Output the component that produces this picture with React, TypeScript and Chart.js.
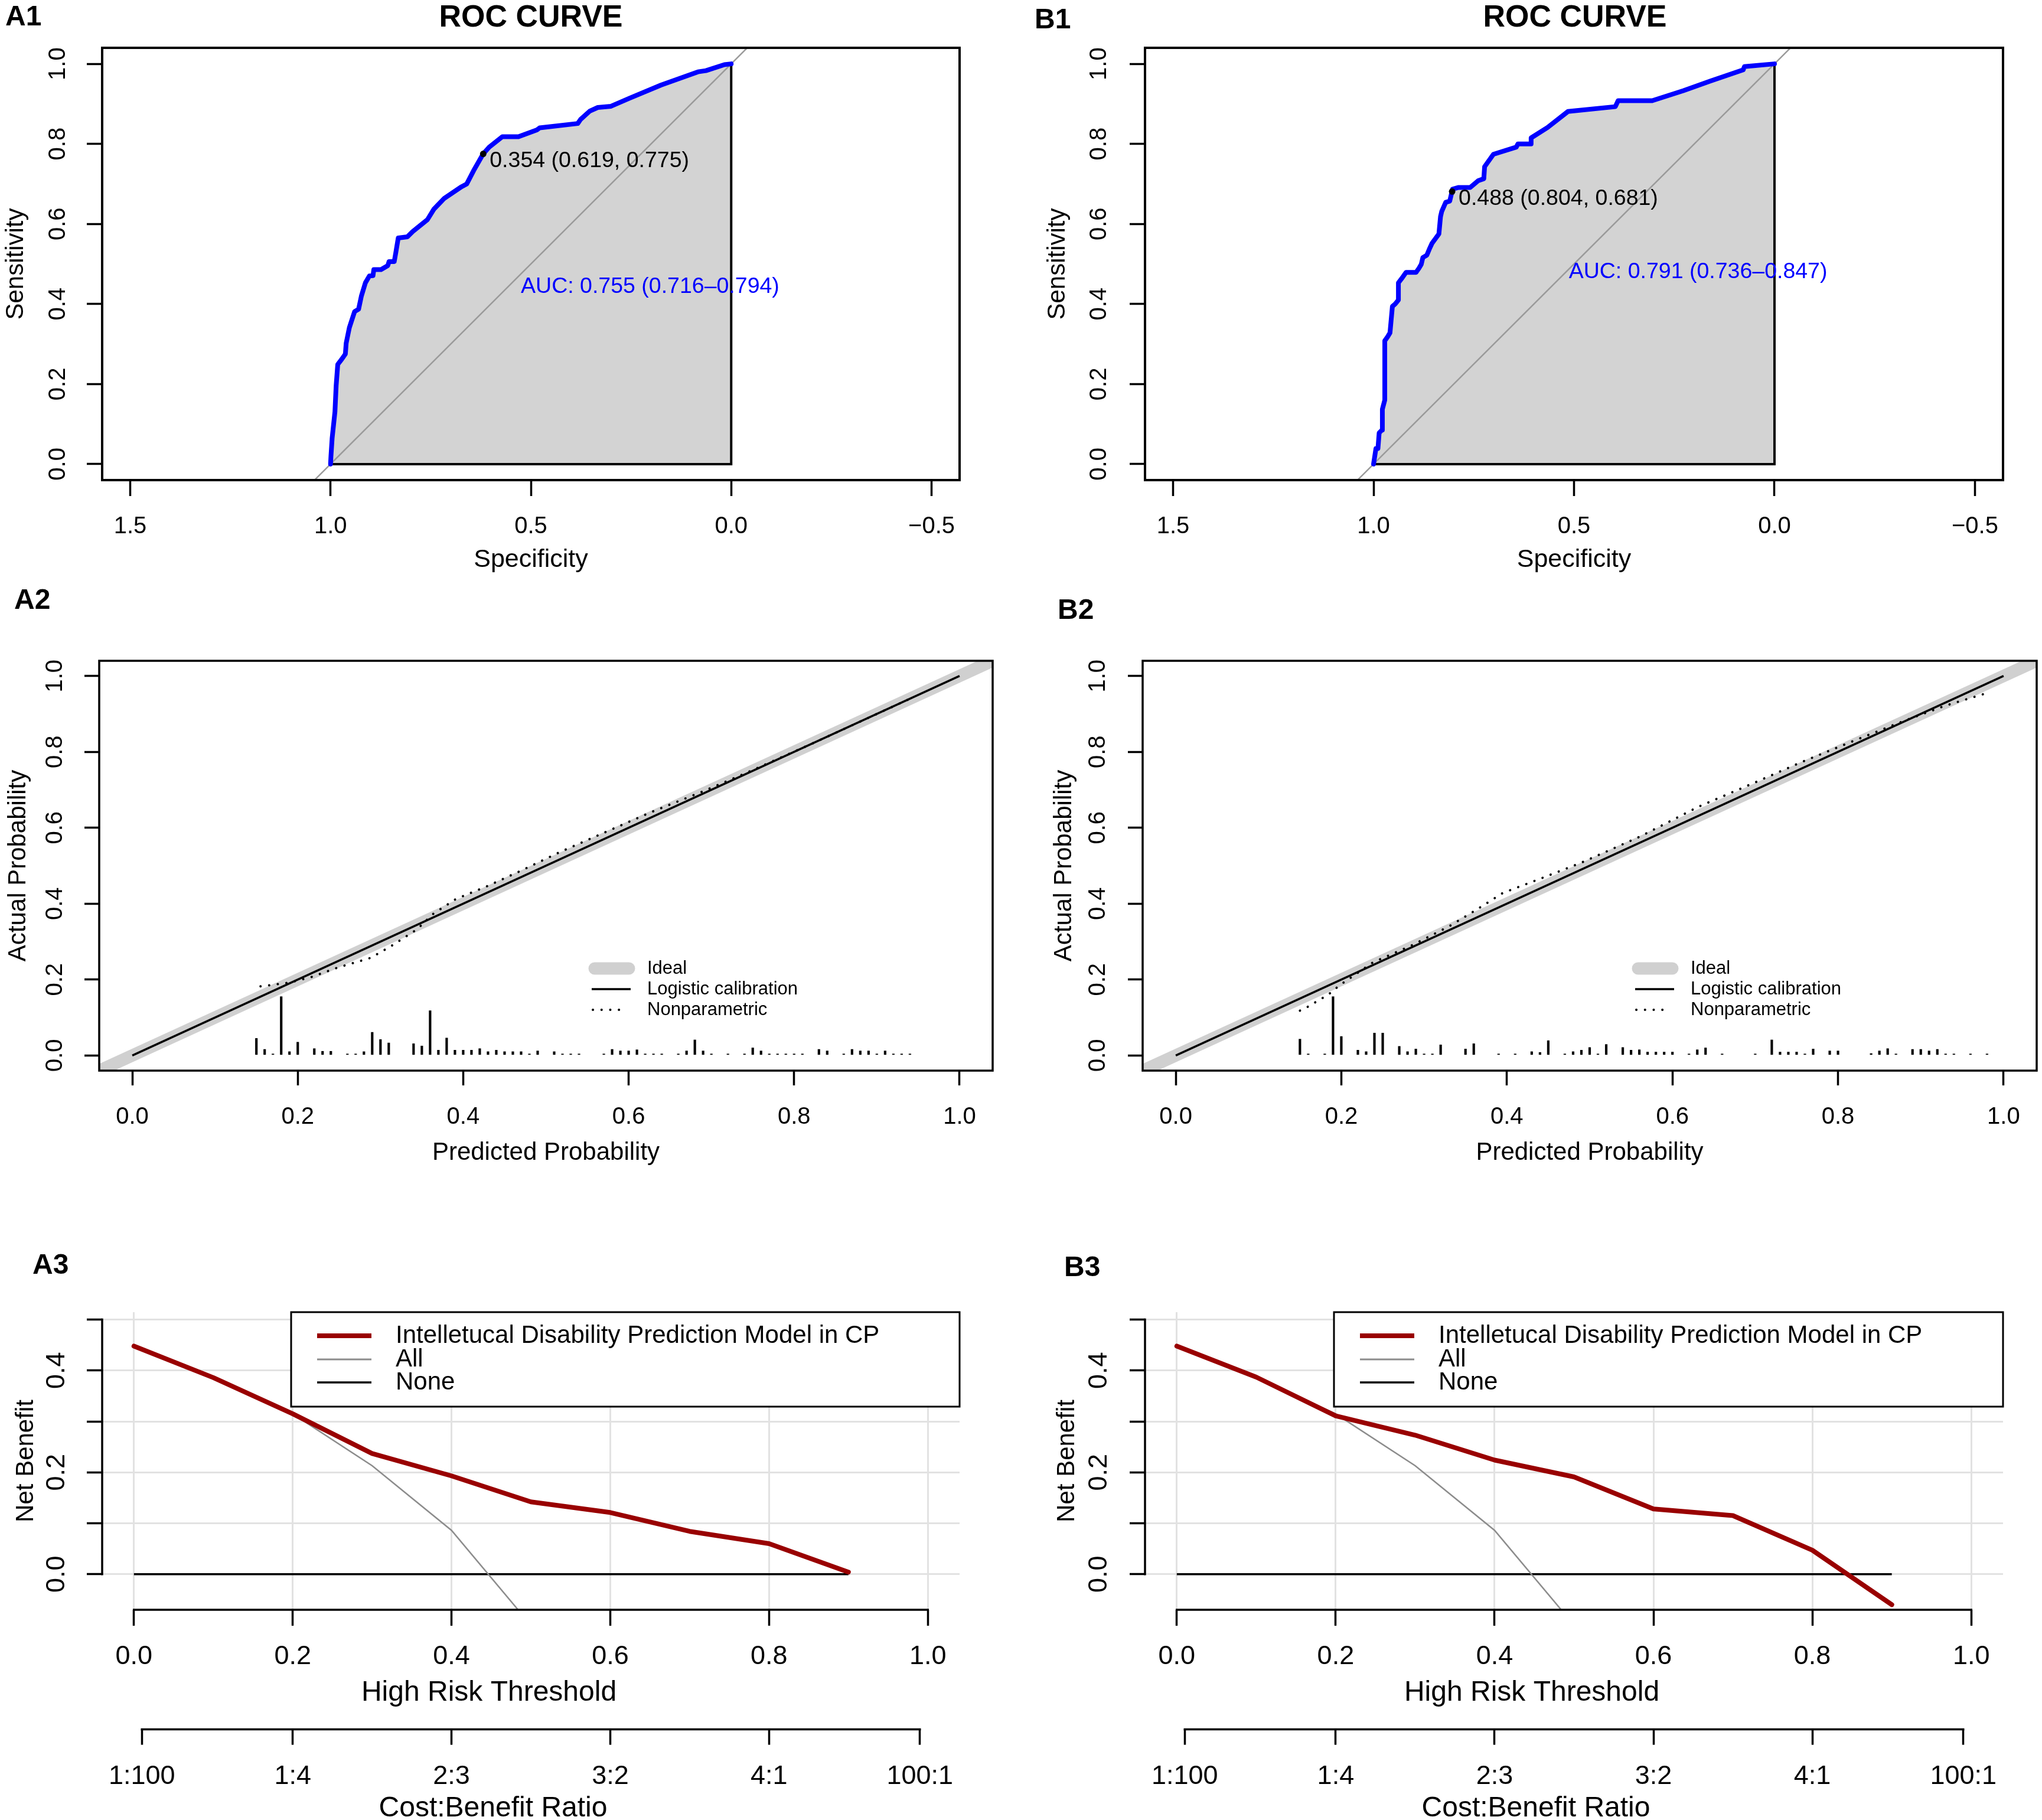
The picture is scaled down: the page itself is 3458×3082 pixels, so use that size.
import React, { useEffect, useRef } from "react";
import { Chart, registerables } from "chart.js";

Chart.register(...registerables);

const FONT = '"Liberation Sans", Arial, Helvetica, sans-serif';
const BLUE = "#0000FF";
const FILL_GREY = "#D3D3D3";
const IDEAL_GREY = "#D0D0D0";
const DARK_RED = "#990000";
const ALL_GREY = "#8C8C8C";
const GRID_GREY = "#E2E2E2";

// ---------- ROC curves: specificity / sensitivity ----------
const rocSpecA = [1.0, 0.999, 0.996, 0.989, 0.986, 0.982, 0.972, 0.963, 0.961, 0.953, 0.94, 0.93, 0.923, 0.913, 0.903, 0.894, 0.892, 0.874, 0.857, 0.854, 0.841, 0.837, 0.831, 0.808, 0.795, 0.758, 0.742, 0.716, 0.673, 0.66, 0.643, 0.619, 0.604, 0.571, 0.531, 0.485, 0.478, 0.383, 0.376, 0.353, 0.333, 0.3, 0.254, 0.175, 0.083, 0.063, 0.017, 0.0];
const rocSensA = [0.0, 0.019, 0.065, 0.131, 0.196, 0.249, 0.262, 0.275, 0.302, 0.341, 0.381, 0.387, 0.42, 0.453, 0.47, 0.471, 0.486, 0.486, 0.496, 0.506, 0.506, 0.529, 0.565, 0.568, 0.581, 0.611, 0.637, 0.664, 0.693, 0.7, 0.733, 0.775, 0.792, 0.818, 0.818, 0.835, 0.84, 0.851, 0.861, 0.882, 0.891, 0.894, 0.914, 0.947, 0.98, 0.983, 0.998, 1.0];
const rocSpecB = [1.0, 0.994, 0.989, 0.986, 0.979, 0.978, 0.972, 0.972, 0.965, 0.959, 0.953, 0.946, 0.938, 0.938, 0.928, 0.919, 0.894, 0.887, 0.881, 0.877, 0.867, 0.86, 0.854, 0.837, 0.833, 0.83, 0.82, 0.81, 0.806, 0.804, 0.803, 0.789, 0.759, 0.739, 0.725, 0.723, 0.701, 0.644, 0.64, 0.607, 0.607, 0.566, 0.515, 0.397, 0.39, 0.305, 0.227, 0.16, 0.078, 0.075, 0.0];
const rocSensB = [0.0, 0.039, 0.039, 0.078, 0.085, 0.137, 0.16, 0.308, 0.318, 0.328, 0.394, 0.4, 0.41, 0.453, 0.466, 0.479, 0.479, 0.489, 0.499, 0.516, 0.522, 0.539, 0.552, 0.575, 0.618, 0.631, 0.654, 0.657, 0.674, 0.681, 0.687, 0.691, 0.691, 0.708, 0.713, 0.743, 0.774, 0.792, 0.8, 0.8, 0.815, 0.841, 0.881, 0.893, 0.908, 0.908, 0.933, 0.957, 0.985, 0.993, 1.0];

// best cut-off [specificity, sensitivity] and its threshold
const bestA = [0.619, 0.775];
const bestB = [0.804, 0.681];
const cutA = 0.354;
const cutB = 0.488;
// AUC with 95% CI and where its label sits (specificity, sensitivity)
const aucA = [0.755, 0.716, 0.794];
const aucB = [0.791, 0.736, 0.847];
const aucPosA = [0.525, 0.443];
const aucPosB = [0.513, 0.48];

// auc polygon edges and chance line
const frameSpec = [1, 0, 0];
const frameSens = [0, 0, 1];
const chanceSpec = [1.1, -0.1];
const chanceSens = [-0.1, 1.1];

const rocXTicks = [1.5, 1.0, 0.5, 0.0, -0.5];
const unitTicks = [0, 0.2, 0.4, 0.6, 0.8, 1.0];

// ---------- Calibration ----------
const idealXY = [-0.1, 1.1];
const logitX = [0, 1];
const logitY = [0, 1];
const npAx = [0.155, 0.19, 0.217, 0.249, 0.288, 0.312, 0.344, 0.363, 0.391, 0.43, 0.47, 0.517, 0.564, 0.627, 0.69, 0.75, 0.82, 0.88, 0.94];
const npAy = [0.182, 0.192, 0.207, 0.232, 0.257, 0.287, 0.332, 0.372, 0.412, 0.447, 0.487, 0.536, 0.581, 0.641, 0.696, 0.752, 0.82, 0.88, 0.94];
const npBx = [0.15, 0.163, 0.172, 0.183, 0.198, 0.238, 0.285, 0.33, 0.364, 0.395, 0.443, 0.49, 0.561, 0.631, 0.694, 0.757, 0.82, 0.88, 0.93, 0.98];
const npBy = [0.118, 0.132, 0.145, 0.158, 0.185, 0.245, 0.29, 0.34, 0.385, 0.428, 0.468, 0.508, 0.577, 0.655, 0.714, 0.774, 0.83, 0.882, 0.922, 0.955];

// spike histogram of predicted probabilities
const spikeAx = [0.15, 0.16, 0.17, 0.18, 0.19, 0.2, 0.22, 0.23, 0.24, 0.26, 0.27, 0.28, 0.29, 0.3, 0.31, 0.34, 0.35, 0.36, 0.37, 0.38, 0.39, 0.4, 0.41, 0.42, 0.43, 0.44, 0.45, 0.46, 0.47, 0.48, 0.49, 0.51, 0.52, 0.53, 0.54, 0.57, 0.58, 0.59, 0.6, 0.61, 0.62, 0.63, 0.64, 0.66, 0.67, 0.68, 0.69, 0.7, 0.72, 0.74, 0.75, 0.76, 0.77, 0.78, 0.79, 0.8, 0.81, 0.83, 0.84, 0.86, 0.87, 0.88, 0.89, 0.9, 0.91, 0.92, 0.93, 0.94];
const spikeAh = [0.045, 0.016, 0.004, 0.155, 0.01, 0.035, 0.018, 0.011, 0.011, 0.004, 0.004, 0.01, 0.061, 0.042, 0.033, 0.031, 0.025, 0.118, 0.014, 0.046, 0.014, 0.014, 0.014, 0.018, 0.01, 0.014, 0.01, 0.01, 0.01, 0.004, 0.012, 0.01, 0.004, 0.004, 0.004, 0.004, 0.016, 0.012, 0.012, 0.015, 0.004, 0.004, 0.004, 0.004, 0.012, 0.041, 0.012, 0.004, 0.004, 0.004, 0.02, 0.012, 0.004, 0.004, 0.004, 0.004, 0.004, 0.016, 0.012, 0.004, 0.016, 0.012, 0.012, 0.004, 0.012, 0.004, 0.004, 0.004];
const spikeBx = [0.15, 0.16, 0.18, 0.19, 0.2, 0.22, 0.23, 0.24, 0.25, 0.27, 0.28, 0.29, 0.3, 0.31, 0.32, 0.35, 0.36, 0.39, 0.41, 0.43, 0.44, 0.45, 0.47, 0.48, 0.49, 0.5, 0.51, 0.52, 0.54, 0.55, 0.56, 0.57, 0.58, 0.59, 0.6, 0.62, 0.63, 0.64, 0.66, 0.7, 0.72, 0.73, 0.74, 0.75, 0.76, 0.77, 0.79, 0.8, 0.84, 0.85, 0.86, 0.87, 0.89, 0.9, 0.91, 0.92, 0.93, 0.94, 0.96, 0.98];
const spikeBh = [0.043, 0.004, 0.004, 0.155, 0.05, 0.014, 0.01, 0.059, 0.059, 0.024, 0.01, 0.017, 0.004, 0.004, 0.028, 0.017, 0.031, 0.004, 0.004, 0.01, 0.008, 0.039, 0.004, 0.01, 0.014, 0.021, 0.004, 0.029, 0.021, 0.014, 0.015, 0.009, 0.009, 0.009, 0.009, 0.004, 0.015, 0.02, 0.004, 0.004, 0.041, 0.009, 0.009, 0.009, 0.004, 0.017, 0.012, 0.012, 0.005, 0.012, 0.018, 0.004, 0.016, 0.016, 0.012, 0.016, 0.004, 0.004, 0.004, 0.004];

// ---------- Decision curves ----------
const thresholds = [0, 0.1, 0.2, 0.3, 0.4, 0.5, 0.6, 0.7, 0.8, 0.9];
const nbModelA = [0.448, 0.386, 0.315, 0.237, 0.193, 0.142, 0.121, 0.084, 0.06, 0.004];
const nbModelB = [0.448, 0.387, 0.311, 0.273, 0.224, 0.191, 0.128, 0.115, 0.047, -0.06];
const nbAll = [0.448, 0.386, 0.315, 0.213, 0.086, -0.1];
const noneX = [0, 0.9];
const noneY = [0, 0];
const nbTicks = [0, 0.1, 0.2, 0.3, 0.4, 0.5];
const costTicks = [0.01, 0.2, 0.4, 0.6, 0.8, 0.99];
const costLabels = ["1:100", "1:4", "2:3", "3:2", "4:1", "100:1"];
const modelName = "Intelletucal Disability Prediction Model in CP";

// ---------- helpers ----------
const pts = (xs: number[], ys: number[]) => xs.map((x, i) => ({ x, y: ys[i] }));
const fmt1 = (v: number) => v.toFixed(1);
const fmtSigned = (v: number) => (v < 0 ? "\u2212" : "") + Math.abs(v).toFixed(1);

function line(data: any[], color: string, width: number, extra: any = {}) {
  return {
    type: "line",
    data,
    borderColor: color,
    borderWidth: width,
    pointRadius: 0,
    pointHoverRadius: 0,
    fill: false,
    tension: 0,
    xAxisID: "x",
    yAxisID: "y",
    ...extra,
  };
}

type AxisSpec = {
  min: number;
  max: number;
  values: number[];
  fmt: (v: number) => string;
  size: number;
  tickLen: number;
  pad: number;
  font: number;
  reverse?: boolean;
  grid?: string;
  title?: string;
  titleSize?: number;
  titlePad?: number;
  weight?: number;
};

function axisX(s: AxisSpec) {
  return {
    type: "linear",
    position: "bottom",
    min: s.min,
    max: s.max,
    reverse: !!s.reverse,
    offset: false,
    weight: s.weight ?? 0,
    afterBuildTicks: (sc: any) => {
      sc.ticks = s.values.map((value) => ({ value }));
    },
    afterFit: (sc: any) => {
      sc.height = s.size;
    },
    border: { display: false },
    grid: {
      display: true,
      drawOnChartArea: !!s.grid,
      color: s.grid ?? "rgba(0,0,0,0)",
      lineWidth: 3,
      drawTicks: true,
      tickLength: s.tickLen,
      tickColor: "#000",
      tickWidth: 3.5,
      offset: false,
    },
    ticks: {
      autoSkip: false,
      minRotation: 0,
      maxRotation: 0,
      padding: s.pad,
      color: "#000",
      font: { family: FONT, size: s.font },
      callback: (v: number) => s.fmt(v),
    },
    title: s.title
      ? { display: true, text: s.title, color: "#000", font: { family: FONT, size: s.titleSize }, padding: { top: 0, bottom: s.titlePad } }
      : { display: false },
  };
}

function axisY(s: AxisSpec) {
  return {
    type: "linear",
    position: "left",
    min: s.min,
    max: s.max,
    afterBuildTicks: (sc: any) => {
      sc.ticks = s.values.map((value) => ({ value }));
    },
    afterFit: (sc: any) => {
      sc.width = s.size;
    },
    border: { display: false },
    grid: {
      display: true,
      drawOnChartArea: !!s.grid,
      color: s.grid ?? "rgba(0,0,0,0)",
      lineWidth: 3,
      drawTicks: true,
      tickLength: s.tickLen,
      tickColor: "#000",
      tickWidth: 3.5,
    },
    ticks: {
      autoSkip: false,
      minRotation: 90,
      maxRotation: 90,
      crossAlign: "center",
      padding: s.pad,
      color: "#000",
      font: { family: FONT, size: s.font },
      callback: (v: number) => s.fmt(v),
    },
    title: s.title
      ? { display: true, text: s.title, color: "#000", font: { family: FONT, size: s.titleSize }, padding: { top: s.titlePad, bottom: 0 } }
      : { display: false },
  };
}

const common = {
  responsive: false,
  maintainAspectRatio: false,
  animation: false,
  devicePixelRatio: 1,
  events: [],
  plugins: { legend: { display: false }, tooltip: { enabled: false }, title: { display: false } },
};

function drawText(ctx: CanvasRenderingContext2D, s: string, x: number, y: number, size: number, opts: { bold?: boolean; color?: string; align?: CanvasTextAlign } = {}) {
  ctx.save();
  ctx.font = `${opts.bold ? "bold " : ""}${size}px ${FONT}`;
  ctx.fillStyle = opts.color ?? "#000";
  ctx.textAlign = opts.align ?? "left";
  ctx.textBaseline = "middle";
  ctx.fillText(s, x, y);
  ctx.restore();
}

function seg(ctx: CanvasRenderingContext2D, x1: number, y1: number, x2: number, y2: number, color: string, width: number, cap: CanvasLineCap = "butt", dash: number[] = []) {
  ctx.save();
  ctx.strokeStyle = color;
  ctx.lineWidth = width;
  ctx.lineCap = cap;
  ctx.setLineDash(dash);
  ctx.beginPath();
  ctx.moveTo(x1, y1);
  ctx.lineTo(x2, y2);
  ctx.stroke();
  ctx.restore();
}

type Panel = { W: number; H: number; area: number[]; label: string; labelPos: number[] };

// ---------- ROC panel ----------
function rocConfig(p: Panel & { spec: number[]; sens: number[]; best: number[]; cut: number; auc: number[]; aucPos: number[]; titleX: number; yPad: number; yTitlePad: number }) {
  const [l, t, r, b] = p.area;
  const curve = pts(p.spec, p.sens);
  const cutText = `${p.cut.toFixed(3)} (${p.best[0].toFixed(3)}, ${p.best[1].toFixed(3)})`;
  const aucText = `AUC: ${p.auc[0].toFixed(3)} (${p.auc[1].toFixed(3)}\u2013${p.auc[2].toFixed(3)})`;
  const decor = {
    id: "rocDecor",
    afterDraw(chart: any) {
      const { ctx, chartArea: a, scales } = chart;
      ctx.save();
      ctx.strokeStyle = "#000";
      ctx.lineWidth = 4;
      ctx.strokeRect(a.left, a.top, a.right - a.left, a.bottom - a.top);
      ctx.restore();
      drawText(ctx, "ROC CURVE", p.titleX, 31, 52, { bold: true, align: "center" });
      drawText(ctx, p.label, p.labelPos[0], p.labelPos[1], 48, { bold: true });
      const px = scales.x.getPixelForValue(p.best[0]);
      const py = scales.y.getPixelForValue(p.best[1]);
      drawText(ctx, cutText, px + 11, py + 12, 37.5);
      drawText(ctx, aucText, scales.x.getPixelForValue(p.aucPos[0]), scales.y.getPixelForValue(p.aucPos[1]), 37.5, { color: BLUE });
    },
  };
  return {
    type: "line",
    data: {
      datasets: [
        { ...line([{ x: p.best[0], y: p.best[1] }], "#000", 1), showLine: false, pointRadius: 5.5, pointBackgroundColor: "#000", pointBorderWidth: 0 },
        line(curve, BLUE, 8, { borderJoinStyle: "round", borderCapStyle: "round" }),
        line(pts(frameSpec, frameSens), "#000", 4),
        line(pts(chanceSpec, chanceSens), "#9A9A9A", 2.5, { clip: 0 }),
        line(curve, "rgba(0,0,0,0)", 0, { fill: "origin", backgroundColor: FILL_GREY }),
      ],
    },
    options: {
      ...common,
      layout: { padding: { left: 0, top: t, right: p.W - r, bottom: 0 } },
      scales: {
        x: axisX({ min: -0.57, max: 1.57, reverse: true, values: rocXTicks, fmt: fmtSigned, size: p.H - b, tickLen: 27, pad: 28, font: 40, title: "Specificity", titleSize: 43, titlePad: 6.2 }),
        y: axisY({ min: -0.04, max: 1.04, values: unitTicks, fmt: fmt1, size: l, tickLen: 26, pad: p.yPad, font: 40, title: "Sensitivity", titleSize: 42, titlePad: p.yTitlePad }),
      },
    },
    plugins: [decor],
  };
}

// ---------- Calibration panel ----------
function calConfig(p: Panel & { npX: number[]; npY: number[]; spX: number[]; spH: number[]; yPad: number; yTitlePad: number }) {
  const [l, t, r, b] = p.area;
  const decor = {
    id: "calDecor",
    afterDraw(chart: any) {
      const { ctx, chartArea: a } = chart;
      ctx.save();
      ctx.strokeStyle = "#000";
      ctx.lineWidth = 3.5;
      ctx.strokeRect(a.left, a.top, a.right - a.left, a.bottom - a.top);
      ctx.restore();
      drawText(ctx, p.label, p.labelPos[0], p.labelPos[1], 48, { bold: true });
      const lx = a.left;
      const ty = a.top;
      seg(ctx, lx + 839, ty + 521, lx + 897, ty + 521, IDEAL_GREY, 21, "round");
      seg(ctx, lx + 834, ty + 556, lx + 900, ty + 556, "#000", 3.5);
      seg(ctx, lx + 836, ty + 591, lx + 890, ty + 591, "#000", 4, "round", [0.1, 14.6]);
      drawText(ctx, "Ideal", lx + 928, ty + 521, 31);
      drawText(ctx, "Logistic calibration", lx + 928, ty + 556, 31);
      drawText(ctx, "Nonparametric", lx + 928, ty + 591, 31);
    },
  };
  return {
    type: "line",
    data: {
      datasets: [
        { type: "bar", data: pts(p.spX, p.spH), backgroundColor: "#000", borderWidth: 0, barThickness: 3.5, xAxisID: "x", yAxisID: "y" },
        line(pts(p.npX, p.npY), "#000", 4, { borderDash: [0.1, 14.6], borderCapStyle: "round" }),
        line(pts(logitX, logitY), "#000", 3.5),
        line(pts(idealXY, idealXY), IDEAL_GREY, 21, { clip: 0 }),
      ],
    },
    options: {
      ...common,
      layout: { padding: { left: 0, top: t, right: p.W - r, bottom: 0 } },
      scales: {
        x: axisX({ min: -0.04, max: 1.04, values: unitTicks, fmt: fmt1, size: p.H - b, tickLen: 25, pad: 30, font: 40, title: "Predicted Probability", titleSize: 42, titlePad: 112.8 }),
        y: axisY({ min: -0.04, max: 1.04, values: unitTicks, fmt: fmt1, size: l, tickLen: 25, pad: p.yPad, font: 40, title: "Actual Probability", titleSize: 42, titlePad: p.yTitlePad }),
      },
    },
    plugins: [decor],
  };
}

// ---------- Decision curve panel ----------
function dcaConfig(p: Panel & { model: number[]; yPad: number; yTitlePad: number }) {
  const [l, t, r, b] = p.area;
  const xHeight = 202.6;
  const decor = {
    id: "dcaDecor",
    afterDraw(chart: any) {
      const { ctx, chartArea: a, scales } = chart;
      const { x, y, x2 } = scales;
      seg(ctx, a.left, y.getPixelForValue(nbTicks[0]), a.left, y.getPixelForValue(nbTicks[nbTicks.length - 1]), "#000", 3.5, "square");
      seg(ctx, x.getPixelForValue(unitTicks[0]), a.bottom, x.getPixelForValue(unitTicks[unitTicks.length - 1]), a.bottom, "#000", 3.5, "square");
      seg(ctx, x2.getPixelForValue(costTicks[0]), x2.top, x2.getPixelForValue(costTicks[costTicks.length - 1]), x2.top, "#000", 3.5, "square");
      drawText(ctx, "High Risk Threshold", a.left + 655, a.bottom + 141, 48, { align: "center" });
      drawText(ctx, "Cost:Benefit Ratio", a.left + 662, a.bottom + 337, 48, { align: "center" });
      drawText(ctx, p.label, p.labelPos[0], p.labelPos[1], 48, { bold: true });
      // legend
      const bx = a.left + 320;
      const by = a.top;
      ctx.save();
      ctx.fillStyle = "#fff";
      ctx.fillRect(bx, by, a.right - bx, 160);
      ctx.strokeStyle = "#000";
      ctx.lineWidth = 3;
      ctx.strokeRect(bx, by, a.right - bx, 160);
      ctx.restore();
      seg(ctx, bx + 44, by + 40, bx + 136, by + 40, DARK_RED, 8);
      seg(ctx, bx + 44, by + 80, bx + 136, by + 80, ALL_GREY, 3);
      seg(ctx, bx + 44, by + 119, bx + 136, by + 119, "#000", 3.5);
      drawText(ctx, modelName, bx + 177, by + 40, 42);
      drawText(ctx, "All", bx + 177, by + 80, 42);
      drawText(ctx, "None", bx + 177, by + 119, 42);
    },
  };
  return {
    type: "line",
    data: {
      datasets: [
        line(pts(thresholds, p.model), DARK_RED, 8, { borderJoinStyle: "round", borderCapStyle: "round" }),
        line(pts(thresholds.slice(0, nbAll.length), nbAll), ALL_GREY, 2.5, { clip: 0 }),
        line(pts(noneX, noneY), "#000", 3.5),
      ],
    },
    options: {
      ...common,
      layout: { padding: { left: 0, top: t, right: p.W - r, bottom: 0 } },
      scales: {
        x: axisX({ min: -0.04, max: 1.04, values: unitTicks, fmt: fmt1, size: xHeight, tickLen: 27, pad: 25.8, font: 45, grid: GRID_GREY }),
        x2: axisX({
          min: -0.04,
          max: 1.04,
          values: costTicks,
          fmt: (v: number) => costLabels[costTicks.indexOf(v)] ?? "",
          size: p.H - b - xHeight,
          tickLen: 26,
          pad: 26.8,
          font: 45,
          weight: 1,
        }),
        y: axisY({
          min: -0.07,
          max: 0.5146,
          values: nbTicks,
          fmt: (v: number) => (Math.round(v * 10) % 2 === 0 ? v.toFixed(1) : ""),
          size: l,
          tickLen: 26,
          pad: p.yPad,
          font: 45,
          grid: GRID_GREY,
          title: "Net Benefit",
          titleSize: 42,
          titlePad: p.yTitlePad,
        }),
      },
    },
    plugins: [decor],
  };
}

function ChartBox({ left, top, width, height, build }: { left: number; top: number; width: number; height: number; build: () => any }) {
  const ref = useRef<HTMLCanvasElement>(null);
  useEffect(() => {
    const chart = new Chart(ref.current as HTMLCanvasElement, build());
    return () => chart.destroy();
  }, []);
  return <canvas ref={ref} width={width} height={height} style={{ position: "absolute", left, top, width, height }} />;
}

export default function App() {
  return (
    <div style={{ position: "absolute", left: 0, top: 0, width: 3458, height: 3082, background: "#fff", overflow: "hidden" }}>
      <ChartBox
        left={0}
        top={0}
        width={1730}
        height={980}
        build={() =>
          rocConfig({ W: 1730, H: 980, area: [173, 81, 1625, 813], label: "A1", labelPos: [9, 30], titleX: 899, spec: rocSpecA, sens: rocSensA, best: bestA, cut: cutA, auc: aucA, aucPos: aucPosA, yPad: 20.2, yTitlePad: 1.8 })
        }
      />
      <ChartBox
        left={1730}
        top={0}
        width={1728}
        height={980}
        build={() =>
          rocConfig({ W: 1728, H: 980, area: [209, 81, 1662, 813], label: "B1", labelPos: [22, 35], titleX: 937, spec: rocSpecB, sens: rocSensB, best: bestB, cut: cutB, auc: aucB, aucPos: aucPosB, yPad: 23.2, yTitlePad: 35.8 })
        }
      />
      <ChartBox
        left={0}
        top={980}
        width={1730}
        height={1110}
        build={() => calConfig({ W: 1730, H: 1110, area: [168, 139, 1681, 833], label: "A2", labelPos: [24, 38], npX: npAx, npY: npAy, spX: spikeAx, spH: spikeAh, yPad: 21.2, yTitlePad: 5.8 })}
      />
      <ChartBox
        left={1730}
        top={980}
        width={1728}
        height={1110}
        build={() => calConfig({ W: 1728, H: 1110, area: [205, 139, 1719, 833], label: "B2", labelPos: [61, 55], npX: npBx, npY: npBy, spX: spikeBx, spH: spikeBh, yPad: 22.2, yTitlePad: 46.8 })}
      />
      <ChartBox
        left={0}
        top={2090}
        width={1730}
        height={992}
        build={() => dcaConfig({ W: 1730, H: 992, area: [173, 132, 1625, 636], label: "A3", labelPos: [55, 54], model: nbModelA, yPad: 18.7, yTitlePad: 18.8 })}
      />
      <ChartBox
        left={1730}
        top={2090}
        width={1728}
        height={992}
        build={() => dcaConfig({ W: 1728, H: 992, area: [209, 132, 1662, 636], label: "B3", labelPos: [72, 58], model: nbModelB, yPad: 19.7, yTitlePad: 51.8 })}
      />
    </div>
  );
}
